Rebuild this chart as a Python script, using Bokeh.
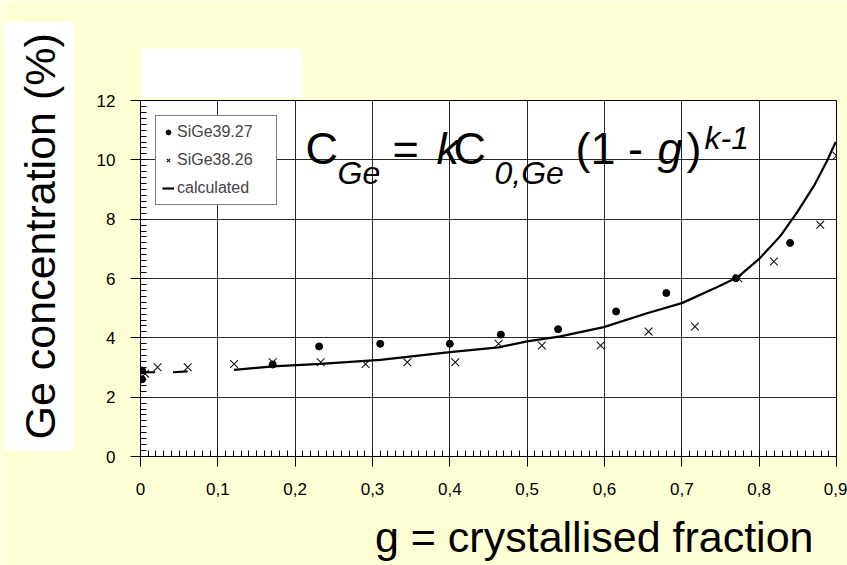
from bokeh.plotting import figure
from bokeh.models import (Range1d, SingleIntervalTicker, CustomJSTickFormatter, Label,
                          Legend, LegendItem, Title)
from bokeh.embed import file_html
from bokeh.resources import INLINE

nan = float("nan")

# ---- data ----
g_sige3927 = [0.002, 0.002, 0.171, 0.231, 0.310, 0.400, 0.466, 0.540, 0.615, 0.680, 0.770, 0.840]
c_sige3927 = [2.60, 2.90, 3.10, 3.71, 3.80, 3.80, 4.11, 4.29, 4.89, 5.51, 6.01, 7.20]

g_sige3826 = [0.006, 0.022, 0.061, 0.121, 0.171, 0.233, 0.291, 0.345, 0.407, 0.463,
              0.519, 0.595, 0.657, 0.717, 0.773, 0.819, 0.879, 0.900]
c_sige3826 = [2.79, 3.01, 3.01, 3.12, 3.18, 3.18, 3.12, 3.18, 3.18, 3.80,
              3.74, 3.74, 4.21, 4.38, 6.01, 6.57, 7.81, 10.14]

g_calc = [0.002, 0.019, nan, 0.042, 0.061, nan, 0.121, 0.171, 0.233, 0.310, 0.400,
          0.463, 0.500, 0.543, 0.599, 0.655, 0.700, 0.746, 0.772, 0.800, 0.828,
          0.849, 0.871, 0.888, 0.899]
c_calc = [2.84, 2.84, nan, 2.84, 2.87, nan, 2.92, 3.04, 3.12, 3.26, 3.52,
          3.68, 3.88, 4.05, 4.36, 4.83, 5.17, 5.71, 6.04, 6.66, 7.45,
          8.23, 9.13, 9.98, 10.60]

series_names = ["SiGe39.27", "SiGe38.26", "calculated"]
y_title = "Ge concentration (%)"
x_title = "g = crystallised fraction"

W, H = 847, 565
BG = "#FFFFD5"
FONT = "Liberation Sans"
NBSP = "\u00a0"

p = figure(width=W, height=H, output_backend="svg", toolbar_location=None,
           x_range=Range1d(0, 0.9), y_range=Range1d(0, 12),
           min_border_left=140, min_border_right=11,
           min_border_top=100, min_border_bottom=109)
p.border_fill_color = BG
p.background_fill_color = "white"
p.outline_line_color = "black"
p.outline_line_width = 1

# axes
for ax in (p.xaxis[0], p.yaxis[0]):
    ax.axis_line_color = "black"
    ax.major_tick_line_color = "black"
    ax.minor_tick_line_color = "black"
    ax.major_tick_out = 10
    ax.major_tick_in = 0
    ax.minor_tick_out = 0
    ax.minor_tick_in = 6
    ax.major_label_text_font = FONT
    ax.major_label_text_font_size = "17px"
    ax.major_label_text_color = "black"

p.xaxis[0].major_label_standoff = 16
p.yaxis[0].major_label_standoff = 15
p.xaxis[0].ticker = SingleIntervalTicker(interval=0.1, num_minor_ticks=10)
p.yaxis[0].ticker = SingleIntervalTicker(interval=2, num_minor_ticks=10)
p.xaxis[0].formatter = CustomJSTickFormatter(
    code="return Math.abs(tick) < 1e-9 ? '0' : tick.toFixed(1).replace('.', ',');")

# invisible spacer labels that push the titles outwards
p.yaxis[0].axis_label = NBSP
p.yaxis[0].axis_label_text_font_size = "1px"
p.yaxis[0].axis_label_standoff = 15
p.xaxis[0].axis_label = NBSP
p.xaxis[0].axis_label_text_font_size = "1px"
p.xaxis[0].axis_label_standoff = 4

p.xgrid.ticker = SingleIntervalTicker(interval=0.1)
p.ygrid.ticker = SingleIntervalTicker(interval=2)
for gr in (p.xgrid[0], p.ygrid[0]):
    gr.grid_line_color = "#2a2a2a"
    gr.grid_line_width = 1

has_padding = "padding" in Title.properties()

# y title with a white panel behind it
yt_kw = dict(text=y_title, align="left", offset=6, vertical_align="bottom", standoff=0,
             text_font=FONT, text_font_size="43px", text_font_style="normal",
             text_color="black", background_fill_color="white")
if has_padding:
    yt_kw["padding"] = 11
p.add_layout(Title(**yt_kw), "left")

# x title
p.add_layout(Title(text=x_title, align="right", offset=23, vertical_align="bottom",
                   standoff=10, text_font=FONT, text_font_size="43px",
                   text_font_style="normal", text_color="black"), "below")

# blank white panel above the plot
p.add_layout(Title(text=NBSP * 13, align="left", offset=1, vertical_align="bottom",
                   standoff=6, text_font=FONT, text_font_size="44.5px",
                   text_font_style="normal", background_fill_color="white"), "above")

# ---- data glyphs ----
r1 = p.scatter(g_sige3927, c_sige3927, marker="circle", size=7,
               fill_color="black", line_color="black")
r2 = p.scatter(g_sige3826, c_sige3826, marker="x", size=11,
               line_color="#111111", line_width=1.1)
r3 = p.line(g_calc, c_calc, line_color="black", line_width=2.2)

legend = Legend(items=[LegendItem(label=series_names[0], renderers=[r1]),
                       LegendItem(label=series_names[1], renderers=[r2]),
                       LegendItem(label=series_names[2], renderers=[r3])],
                location=(15, 251), margin=0, padding=6, spacing=8,
                glyph_width=12, glyph_height=20, label_height=20, label_width=93,
                label_standoff=3,
                label_text_font=FONT, label_text_font_size="16px",
                border_line_color="black", border_line_width=1,
                background_fill_color="white", background_fill_alpha=1)
p.add_layout(legend)

# ---- formula inside the frame ----
def lab(text, px, baseline, size, style="normal"):
    p.add_layout(Label(x=px, y=baseline - 0.3465 * size - 4, x_units="canvas", y_units="canvas",
                       text=text, text_font=FONT, text_font_size=f"{size}px",
                       text_font_style=style, text_color="black",
                       text_align="left", text_baseline="middle"))

lab("C", 305, 167.5, 45)
lab("Ge", 337, 188, 32, "italic")
lab("=", 392, 167.5, 45)
lab("k", 436, 167.5, 45, "italic")
lab("C", 453, 167.5, 45)
lab("0,Ge", 494, 188, 32, "italic")
lab("(1 - ", 575, 167.5, 45)
lab("g", 657, 167.5, 45, "italic")
lab(")", 686, 167.5, 45)
lab("k-1", 704, 153, 32, "italic")

open("out.html", "w").write(file_html(p, INLINE, title="Ge concentration"))
